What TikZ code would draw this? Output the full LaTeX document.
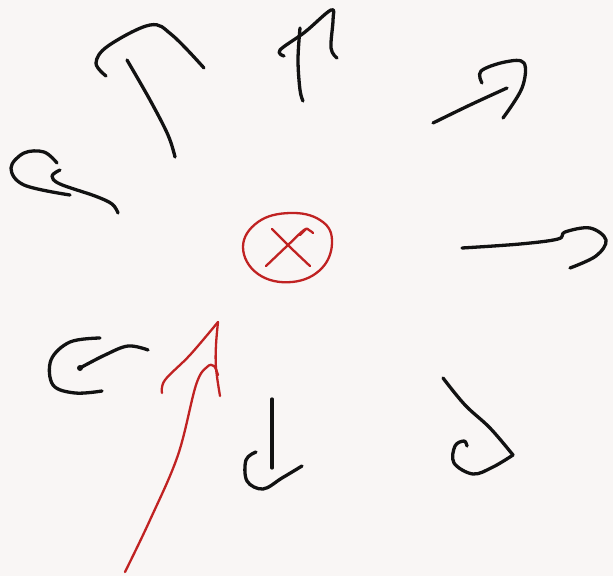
\documentclass[tikz,border=0pt]{standalone}
\usepackage{tikz}
\definecolor{paperwhite}{RGB}{249,246,245}
\definecolor{inkblack}{RGB}{18,18,18}
\definecolor{penred}{RGB}{192,34,34}

\begin{document}
\begin{tikzpicture}[
    x=1pt, y=-1pt,
    ink/.style={inkblack, line width=3.3pt, line cap=round, line join=round},
    redink/.style={penred, line width=2.3pt, line cap=round, line join=round},
    stroke/.style={smooth, tension=0.6},
]

% === FONDO ===
\fill[paperwhite] (0,0) rectangle (613,576);
\useasboundingbox (0,0) rectangle (613,576);

% === CENTRO: carga entrando ===
\coordinate (centre) at (287,247);
\draw[redink] plot[smooth cycle, tension=0.7] coordinates {(243,247) (258,222) (290,213) (320,220) (332,240) (322,268) (292,282) (258,274)};
\draw[redink] plot[stroke] coordinates {(272,229) (291,248) (310,266)};
\draw[redink] plot[stroke] coordinates {(266,266) (287,246) (304,230) (309,230) (313,233)};
\draw[redink] (300,235) -- (306,229);

% === FLECHA ROJA ===
\draw[redink] plot[stroke] coordinates {(125,572) (150,520) (178,455) (196,385) (207,367) (214,366) (218,375)};
\draw[redink] plot[stroke] coordinates {(162,393) (165,380) (190,355) (218,322)};
\draw[redink] plot[stroke] coordinates {(218,322) (216,345) (216,368) (220,396)};

% === TRAZOS NEGROS ===
% Arriba izquierda
\draw[ink] plot[stroke] coordinates {(106,76) (96,63) (108,46) (150,25) (172,35) (204,68)};
\draw[ink] plot[stroke] coordinates {(127,60) (150,100) (168,135) (175,157)};

% Izquierda arriba
\draw[ink] plot[stroke] coordinates {(57,163) (44,152) (24,153) (11,168) (24,185) (70,195)};
\draw[ink] plot[stroke] coordinates {(60,170) (52,176) (60,184) (95,196) (112,204) (118,213)};

% Arriba centro
\draw[ink] plot[stroke] coordinates {(300,28) (298,60) (300,90) (303,101)};
\draw[ink] plot[stroke] coordinates {(284,56) (280,50) (305,32) (331,10) (333,20) (331,48) (337,58)};

% Arriba derecha
\draw[ink] plot[stroke] coordinates {(433,123) (470,105) (507,88)};
\draw[ink] plot[stroke] coordinates {(482,83) (481,71) (505,62) (524,63) (522,88) (503,118)};

% Derecha
\draw[ink] plot[stroke] coordinates {(462,248) (520,244) (558,239) (565,232) (590,228) (606,240) (596,256) (570,268)};

% Abajo derecha
\draw[ink] plot[stroke] coordinates {(443,378) (465,405) (490,428) (513,455)};
\draw[ink] plot[stroke] coordinates {(513,455) (493,467) (473,474) (454,463) (455,446) (464,441) (467,446)};

% Abajo centro
\draw[ink] plot[stroke] coordinates {(272,399) (272,430) (272,468)};
\draw[ink] plot[stroke] coordinates {(302,466) (282,478) (263,489) (247,481) (246,460) (256,452)};

% Izquierda abajo
\draw[ink] plot[stroke] coordinates {(100,338) (70,342) (51,360) (53,385) (75,393) (102,391)};
\draw[ink] plot[stroke] coordinates {(80,368) (105,355) (128,346) (148,350)};
\fill[inkblack] (80,368) circle (3);

\end{tikzpicture}
\end{document}
